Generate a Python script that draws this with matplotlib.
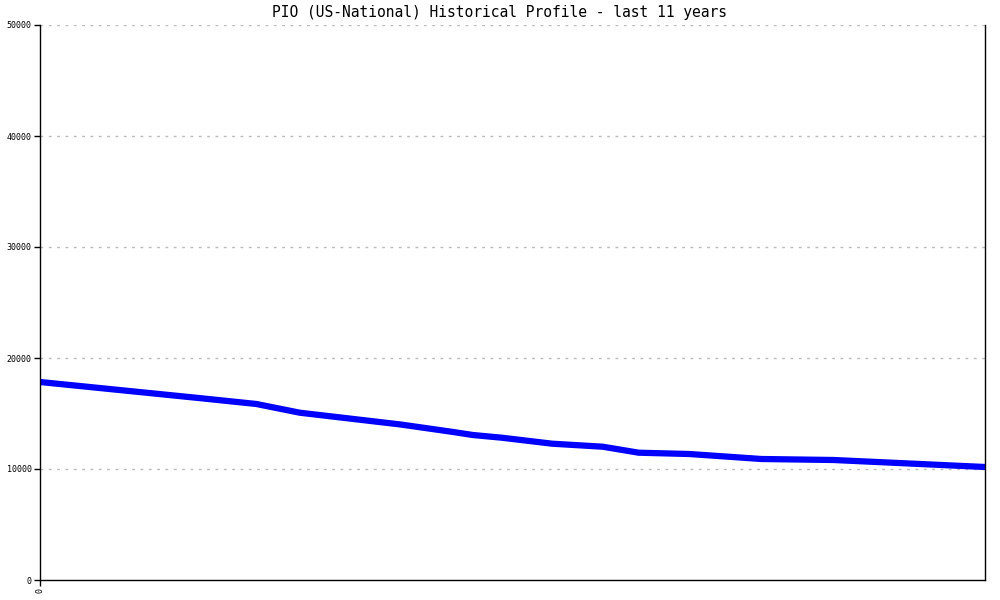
import numpy as np
import matplotlib
matplotlib.use('Agg')
from matplotlib import pyplot as plt

# values (month index, value)
months = [0, 22, 30, 36, 50, 57, 60, 64, 71, 78, 83, 90, 100, 110, 131]
values = [17838, 16396, 15856, 15072, 14009, 13360, 13063, 12820,
          12279, 12009, 11468, 11351, 10901, 10811, 10180]
yticks = [0, 10000, 20000, 30000, 40000, 50000]
title = 'PIO (US-National) Historical Profile - last 11 years'

fig = plt.figure(figsize=(10, 6), dpi=100)
ax = fig.add_axes([0.04, 20/600, 0.945, 555/600])

ax.plot(months, values, color='#0000ff', lw=4.5, solid_capstyle='butt',
        solid_joinstyle='miter')

ax.set_xlim(0, 131)
ax.set_ylim(0, 50000)
ax.set_yticks(yticks)
ax.set_yticklabels([str(v) for v in yticks], family='DejaVu Sans Mono', fontsize=6)
ax.set_xticks([0])
ax.set_xticklabels(['0'], rotation=90, family='DejaVu Sans Mono', fontsize=6)
ax.tick_params(axis='both', direction='out', length=4, width=1, pad=2)

for v in yticks[1:]:
    ax.axhline(v, color='#bbbbbb', lw=1, ls=(0, (2, 4)), zorder=0)

ax.spines['top'].set_visible(False)
for s in ['left', 'right', 'bottom']:
    ax.spines[s].set_linewidth(1)

fig.text(0.5, 1 - 13/600, title, ha='center', va='center',
         family='DejaVu Sans Mono', fontsize=10.5)

fig.savefig('out.png', dpi=100)
